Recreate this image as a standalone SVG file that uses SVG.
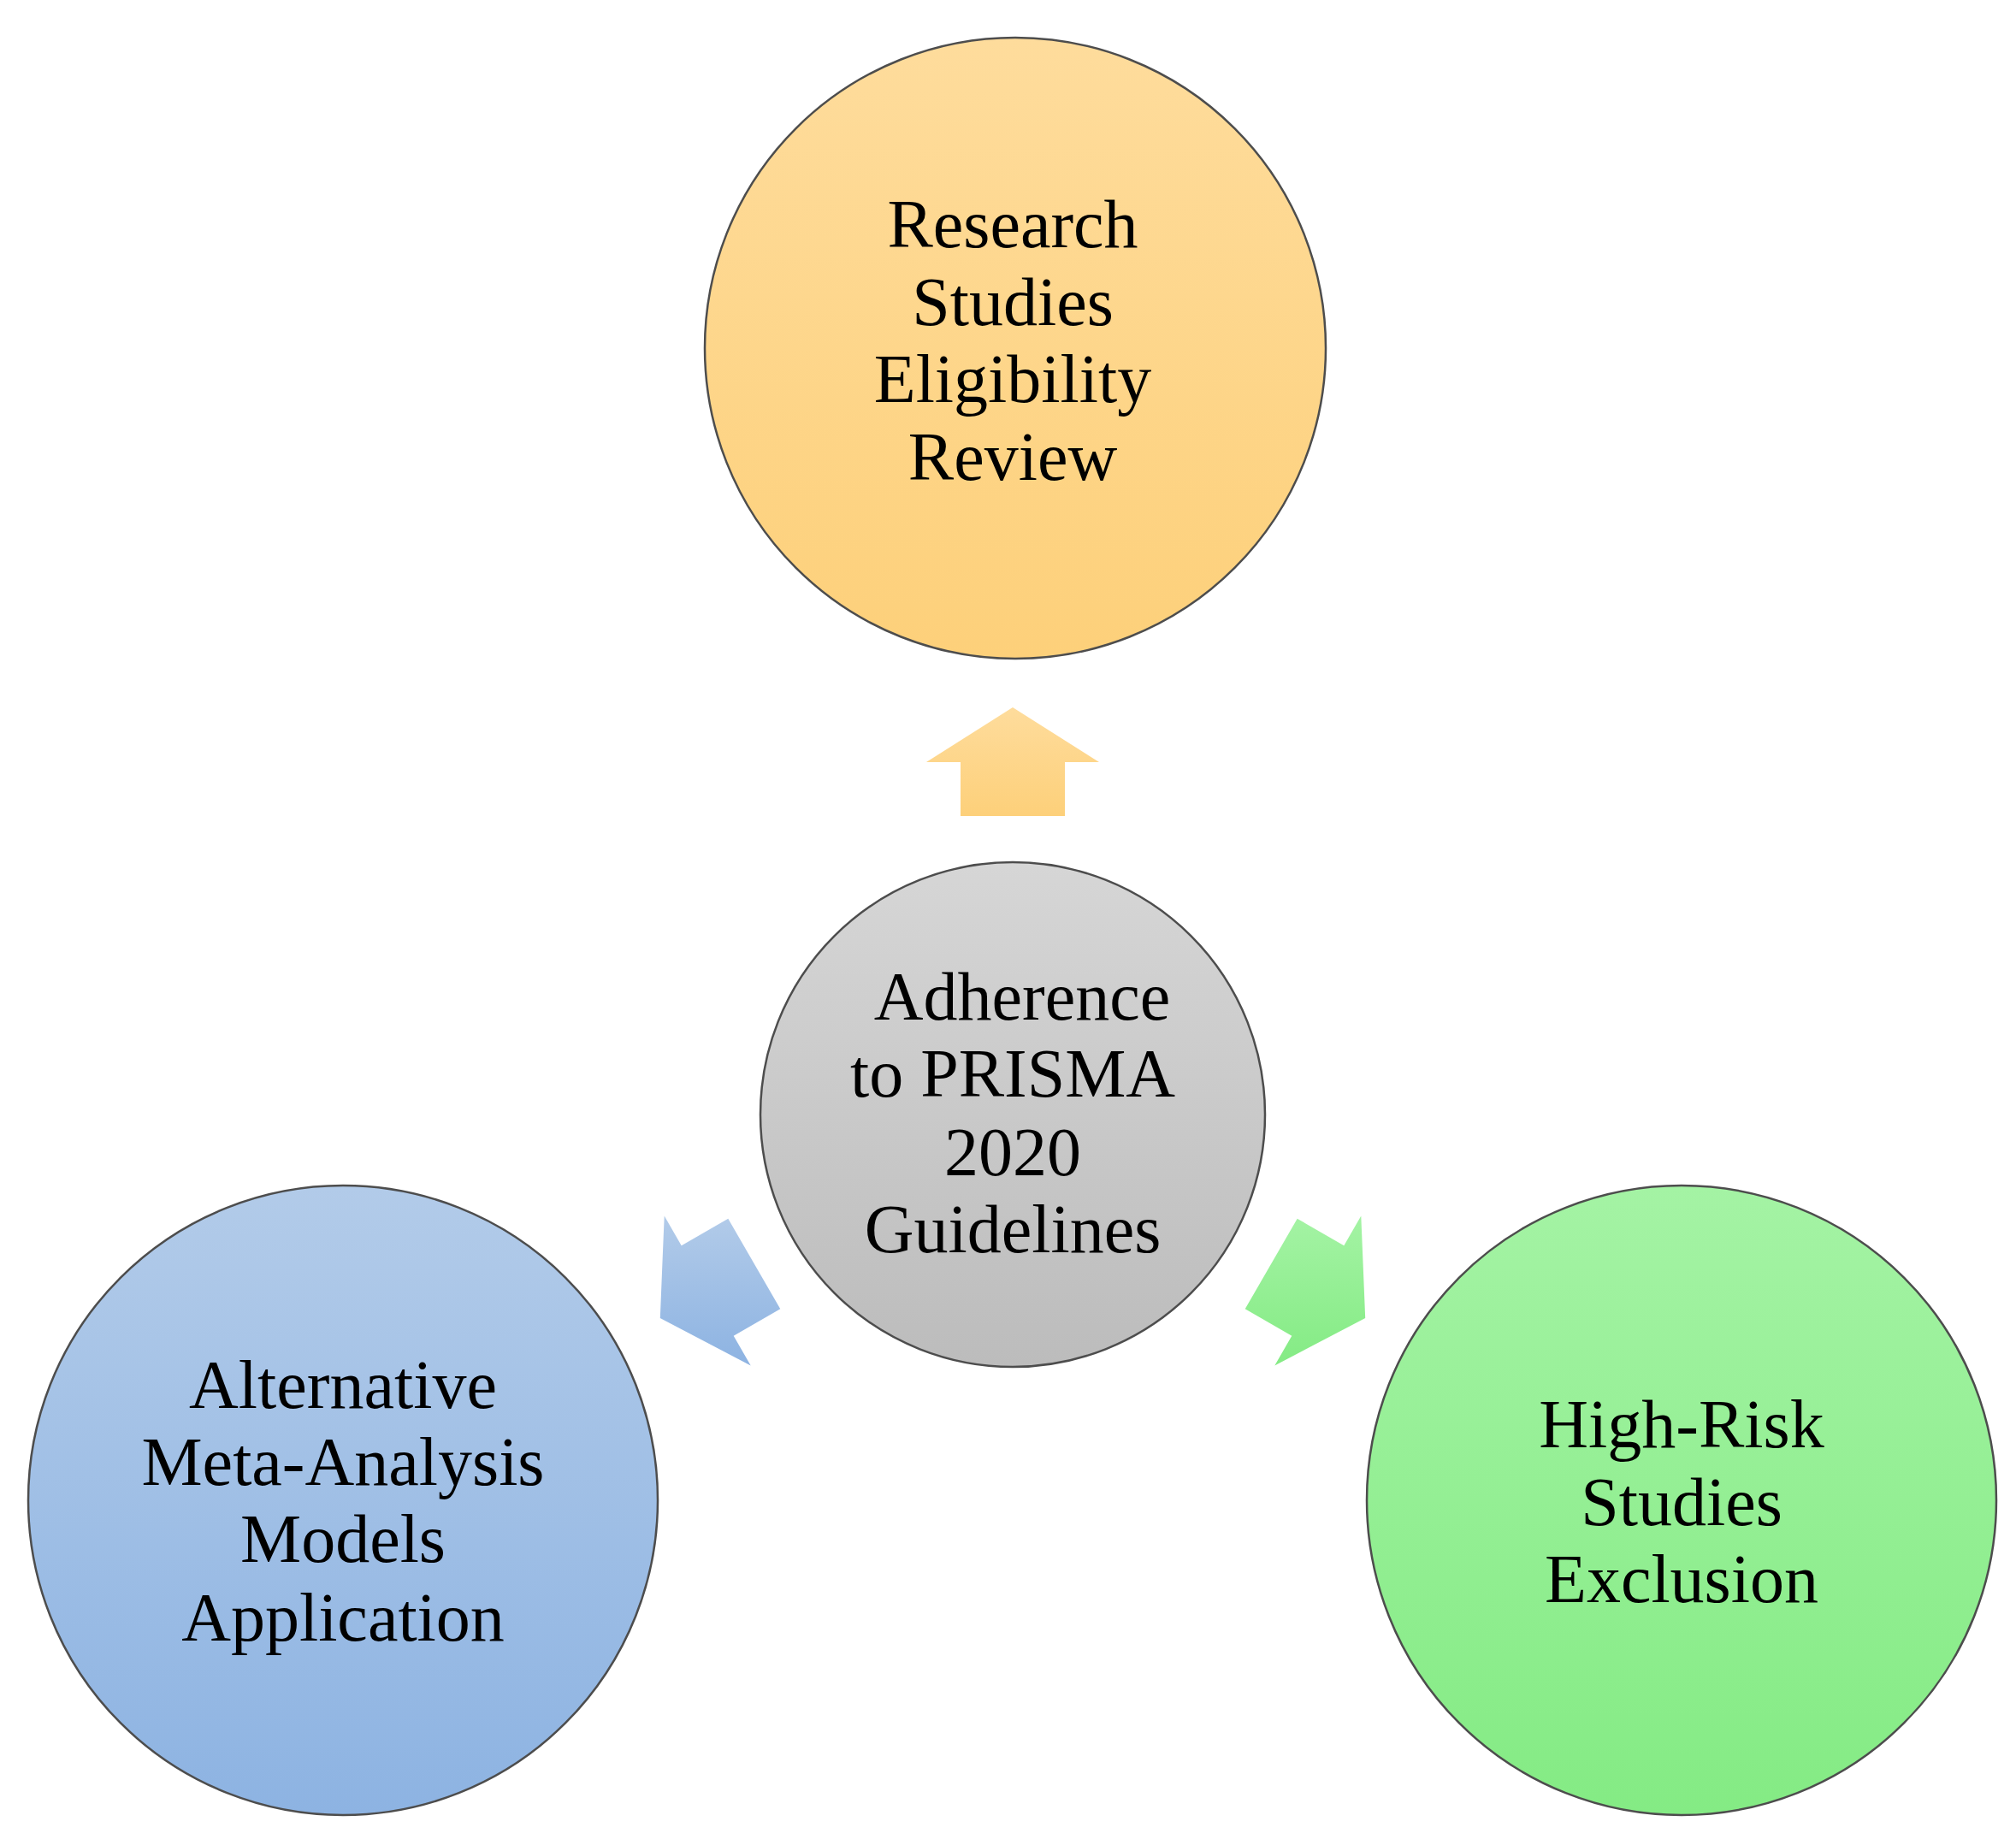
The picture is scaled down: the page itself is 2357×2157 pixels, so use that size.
<svg xmlns="http://www.w3.org/2000/svg" width="2357" height="2157" viewBox="0 0 2357 2157">
<defs>
<linearGradient id="gOrange" x1="0" y1="0" x2="0" y2="1"><stop offset="0" stop-color="#FEDC9C"/><stop offset="1" stop-color="#FDD07A"/></linearGradient>
<linearGradient id="gGray" x1="0" y1="0" x2="0" y2="1"><stop offset="0" stop-color="#D6D6D6"/><stop offset="1" stop-color="#BCBCBC"/></linearGradient>
<linearGradient id="gBlue" x1="0" y1="0" x2="0" y2="1"><stop offset="0" stop-color="#B2CBE9"/><stop offset="1" stop-color="#8DB3E2"/></linearGradient>
<linearGradient id="gGreen" x1="0" y1="0" x2="0" y2="1"><stop offset="0" stop-color="#A4F3A4"/><stop offset="1" stop-color="#84EB84"/></linearGradient>
</defs>
<style>
.node{stroke:#4d4d4d;stroke-width:2.5}
.lbl{font-family:"Liberation Serif","Times New Roman",serif;font-size:80px;fill:#000;text-anchor:middle}
</style>
<rect width="2357" height="2157" fill="#ffffff"/>
<g id="connectors">
<polygon fill="url(#gOrange)" points="1184,827 1285,891 1245,891 1245,954 1123,954 1123,891 1083,891"/>
<polygon fill="url(#gGreen)" points="1596.2,1541 1490.3,1596.5 1510.3,1561.8 1455.7,1530.3 1516.7,1424.7 1571.3,1456.2 1591.3,1421.5"/>
<polygon fill="url(#gBlue)" points="771.8,1541 877.7,1596.5 857.7,1561.8 912.3,1530.3 851.3,1424.7 796.7,1456.2 776.7,1421.5"/>
</g>
<g id="node-top">
<circle class="node" cx="1187" cy="407" r="363" fill="url(#gOrange)"/>
<text class="lbl" x="1184" y="289">Research</text>
<text class="lbl" x="1184" y="380">Studies</text>
<text class="lbl" x="1184" y="470">Eligibility</text>
<text class="lbl" x="1184" y="561">Review</text>
</g>
<g id="node-center">
<circle class="node" cx="1184" cy="1303" r="295" fill="url(#gGray)"/>
<text class="lbl" x="1195" y="1192">Adherence</text>
<text class="lbl" x="1184" y="1282">to PRISMA</text>
<text class="lbl" x="1184" y="1374">2020</text>
<text class="lbl" x="1184" y="1464">Guidelines</text>
</g>
<g id="node-left">
<circle class="node" cx="401" cy="1754" r="368" fill="url(#gBlue)"/>
<text class="lbl" x="401" y="1646">Alternative</text>
<text class="lbl" x="401" y="1736">Meta-Analysis</text>
<text class="lbl" x="401" y="1826">Models</text>
<text class="lbl" x="401" y="1918">Application</text>
</g>
<g id="node-right">
<circle class="node" cx="1966" cy="1754" r="368" fill="url(#gGreen)"/>
<text class="lbl" x="1966" y="1692">High-Risk</text>
<text class="lbl" x="1966" y="1783">Studies</text>
<text class="lbl" x="1966" y="1873">Exclusion</text>
</g>
</svg>
